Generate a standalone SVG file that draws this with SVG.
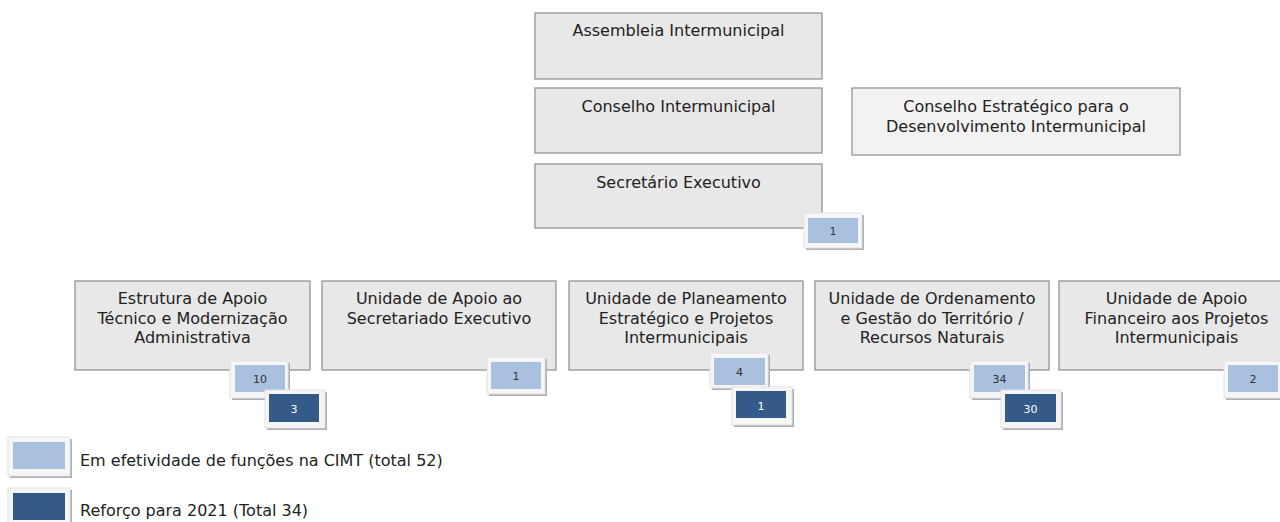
<svg xmlns="http://www.w3.org/2000/svg" width="1280" height="522" viewBox="0 0 1280 522">
<defs>
<style>
.box{fill:#e8e8e8;stroke:#8c8c8c;stroke-width:1.2}
.box2{fill:#f2f2f2;stroke:#8c8c8c;stroke-width:1.2}
.t{font-family:"DejaVu Sans",Verdana,sans-serif;font-size:16px;fill:#222;text-anchor:middle}
.lg{font-family:"DejaVu Sans",Verdana,sans-serif;font-size:16px;fill:#222}
.fr{fill:#f6f6f6;stroke:#e2e2e2;stroke-width:1}
.sh{fill:#a8b0ba}
.lb{fill:#a9c0df}
.db{fill:#335a88}
.n{font-family:"DejaVu Sans",Verdana,sans-serif;font-size:11px;text-anchor:middle}
.nl{fill:#333}
.nd{fill:#fff}
</style>
</defs>
<rect width="1280" height="522" fill="#ffffff"/>
<g id="connectors"></g>

<g id="assembleia">
<rect class="box" x="535" y="13" width="287" height="66"/>
<text class="t" x="678.5" y="36">Assembleia Intermunicipal</text>
</g>
<g id="conselho-intermunicipal">
<rect class="box" x="535" y="88" width="287" height="65"/>
<text class="t" x="678.5" y="112">Conselho Intermunicipal</text>
</g>
<g id="conselho-estrategico">
<rect class="box2" x="852" y="88" width="328" height="67"/>
<text class="t" x="1016" y="112">Conselho Estratégico para o</text>
<text class="t" x="1016" y="132">Desenvolvimento Intermunicipal</text>
</g>
<g id="secretario">
<rect class="box" x="535" y="164" width="287" height="64"/>
<text class="t" x="678.5" y="188">Secretário Executivo</text>
</g>

<g id="estrutura">
<rect class="box" x="75" y="281" width="235" height="89"/>
<text class="t" x="192.5" y="304">Estrutura de Apoio</text>
<text class="t" x="192.5" y="323.5">Técnico e Modernização</text>
<text class="t" x="192.5" y="343">Administrativa</text>
</g>
<g id="unidade-secretariado">
<rect class="box" x="322" y="281" width="234" height="89"/>
<text class="t" x="439" y="304">Unidade de Apoio ao</text>
<text class="t" x="439" y="323.5">Secretariado Executivo</text>
</g>
<g id="unidade-planeamento">
<rect class="box" x="569" y="281" width="234" height="89"/>
<text class="t" x="686" y="304">Unidade de Planeamento</text>
<text class="t" x="686" y="323.5">Estratégico e Projetos</text>
<text class="t" x="686" y="343">Intermunicipais</text>
</g>
<g id="unidade-ordenamento">
<rect class="box" x="815" y="281" width="234" height="89"/>
<text class="t" x="932" y="304">Unidade de Ordenamento</text>
<text class="t" x="932" y="323.5">e Gestão do Território /</text>
<text class="t" x="932" y="343">Recursos Naturais</text>
</g>
<g id="unidade-financeiro">
<rect class="box" x="1059" y="281" width="235" height="89"/>
<text class="t" x="1176.5" y="304">Unidade de Apoio</text>
<text class="t" x="1176.5" y="323.5">Financeiro aos Projetos</text>
<text class="t" x="1176.5" y="343">Intermunicipais</text>
</g>

<!-- badges -->
<g id="badge-secretario">
<rect class="sh" x="806" y="215" width="58" height="35"/>
<rect class="fr" x="804" y="213" width="58" height="35"/>
<rect class="lb" x="808" y="218" width="50" height="25"/>
<text class="n nl" x="833" y="235">1</text>
</g>
<g id="badge-estrutura-10">
<rect class="sh" x="232" y="363" width="58" height="37"/>
<rect class="fr" x="230" y="361" width="58" height="37"/>
<rect class="lb" x="235" y="365" width="50" height="27"/>
<text class="n nl" x="260" y="383">10</text>
</g>
<g id="badge-estrutura-3">
<rect class="sh" x="267" y="392" width="60" height="38"/>
<rect class="fr" x="265" y="390" width="60" height="38"/>
<rect class="db" x="269" y="394" width="50" height="28"/>
<text class="n nd" x="294" y="413">3</text>
</g>
<g id="badge-secretariado-1">
<rect class="sh" x="489" y="359" width="58" height="37"/>
<rect class="fr" x="487" y="357" width="58" height="37"/>
<rect class="lb" x="491" y="362" width="50" height="27"/>
<text class="n nl" x="516" y="380">1</text>
</g>
<g id="badge-planeamento-4">
<rect class="sh" x="712" y="355" width="58" height="35"/>
<rect class="fr" x="710" y="353" width="58" height="35"/>
<rect class="lb" x="714" y="358" width="51" height="27"/>
<text class="n nl" x="739.5" y="376">4</text>
</g>
<g id="badge-planeamento-1">
<rect class="sh" x="734" y="389" width="60" height="38"/>
<rect class="fr" x="732" y="387" width="60" height="38"/>
<rect class="db" x="736" y="391" width="50" height="27"/>
<text class="n nd" x="761" y="410">1</text>
</g>
<g id="badge-ordenamento-34">
<rect class="sh" x="972" y="363" width="58" height="37"/>
<rect class="fr" x="970" y="361" width="58" height="37"/>
<rect class="lb" x="974" y="365" width="51" height="27"/>
<text class="n nl" x="999.5" y="383">34</text>
</g>
<g id="badge-ordenamento-30">
<rect class="sh" x="1003" y="392" width="60" height="38"/>
<rect class="fr" x="1001" y="390" width="60" height="38"/>
<rect class="db" x="1005" y="394" width="51" height="28"/>
<text class="n nd" x="1030.5" y="413">30</text>
</g>
<g id="badge-financeiro-2">
<rect class="sh" x="1226" y="363" width="58" height="37"/>
<rect class="fr" x="1224" y="361" width="58" height="37"/>
<rect class="lb" x="1228" y="365" width="50" height="27"/>
<text class="n nl" x="1253" y="383">2</text>
</g>

<!-- legend -->
<g id="legend-efetividade">
<rect class="sh" x="10" y="439" width="62" height="39"/>
<rect class="fr" x="8" y="437" width="62" height="39"/>
<rect class="lb" x="13" y="442" width="52" height="27"/>
<text class="lg" x="80" y="466">Em efetividade de funções na CIMT (total 52)</text>
</g>
<g id="legend-reforco">
<rect class="sh" x="10" y="490" width="62" height="39"/>
<rect class="fr" x="8" y="488" width="62" height="39"/>
<rect class="db" x="13" y="493" width="52" height="27"/>
<text class="lg" x="80" y="516">Reforço para 2021 (Total 34)</text>
</g>
</svg>
